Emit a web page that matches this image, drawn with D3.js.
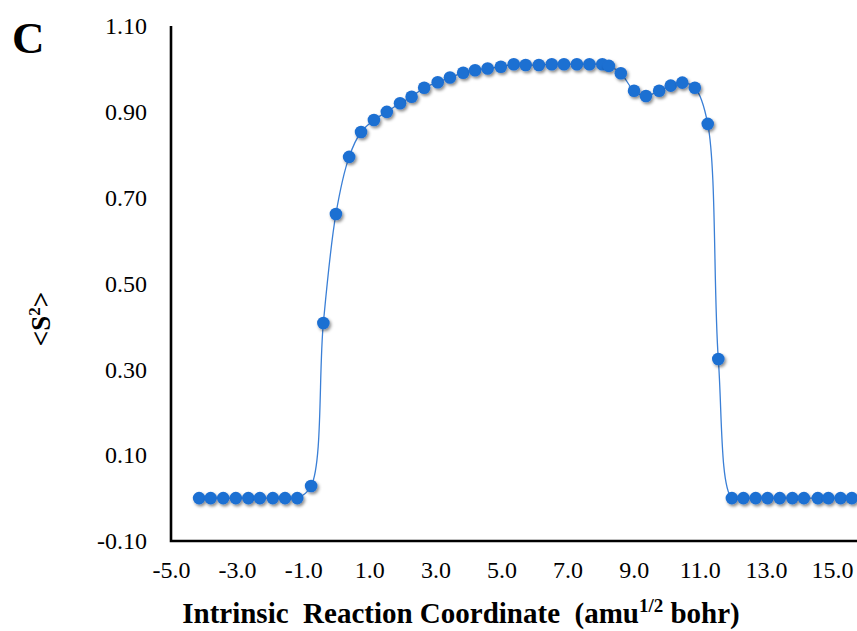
<!DOCTYPE html>
<html>
<head>
<meta charset="utf-8">
<script src="https://cdn.jsdelivr.net/npm/d3@7"></script>
<style>
    body { margin: 0; background: #fff; }
    svg { display: block; }
    .tick text { font-family: "Liberation Serif", "Times New Roman", serif; font-size: 24px; fill: #000; }
</style>
</head>
<body>
<script>
//S2 along the IRC, panel C

(function(){

//data
var ircValues = [-4.15, -3.80, -3.42, -3.04, -2.66, -2.31, -1.92, -1.55, -1.18,
    -0.76, -0.39, -0.01, 0.39, 0.75, 1.14, 1.53, 1.93, 2.28, 2.66, 3.07, 3.44, 3.84,
    4.20, 4.58, 4.98, 5.37, 5.73, 6.13, 6.52, 6.89, 7.28, 7.66, 8.05, 8.25, 8.61,
    9.01, 9.37, 9.77, 10.12, 10.47, 10.85, 11.24, 11.56,
    11.97, 12.32, 12.69, 13.05, 13.42, 13.80, 14.15, 14.57, 14.89, 15.26, 15.60];
var s2Values = [0, 0, 0, 0, 0, 0, 0, 0, 0,
    0.028, 0.408, 0.662, 0.795, 0.853, 0.881, 0.900, 0.920, 0.935, 0.956, 0.969, 0.980, 0.991,
    0.997, 1.001, 1.005, 1.011, 1.009, 1.009, 1.011, 1.011, 1.011, 1.011, 1.011, 1.007, 0.990,
    0.949, 0.937, 0.949, 0.961, 0.968, 0.956, 0.872, 0.324,
    0, 0, 0, 0, 0, 0, 0, 0, 0, 0, 0];
var xTicks = [-5, -3, -1, 1, 3, 5, 7, 9, 11, 13, 15];
var yTicks = [-0.10, 0.10, 0.30, 0.50, 0.70, 0.90, 1.10];

window.onload = setChart();

//plain hyphen for negatives, like the original
function fmt(spec){
    var f = d3.format(spec);
    return function(d){ return f(d).replace("\u2212", "-"); };
};

function setChart(){
    var width = 857,
        height = 631,
        left = 171,
        top = 26,
        bottom = 541;

    var svg = d3.select("body")
        .append("svg")
        .attr("width", width)
        .attr("height", height);

    //drop shadow for the markers, excel style
    var filter = svg.append("defs").append("filter")
        .attr("id", "shadow")
        .attr("x", "-50%").attr("y", "-50%")
        .attr("width", "200%").attr("height", "200%");
    filter.append("feDropShadow")
        .attr("dx", 1.5)
        .attr("dy", 2)
        .attr("stdDeviation", 1.5)
        .attr("flood-color", "#000")
        .attr("flood-opacity", 0.45);

    //axis runs past the right edge like the cropped original
    var xScale = d3.scaleLinear()
        .domain([-5, 17])
        .range([left, left + 22 * 33.05]);

    var yScale = d3.scaleLinear()
        .domain([-0.10, 1.10])
        .range([bottom, top]);

    var points = ircValues.map(function(d, i){
        return {x: d, y: s2Values[i]};
    });

    //axes, no tick marks
    var xAxis = svg.append("g")
        .attr("transform", "translate(0," + bottom + ")")
        .call(d3.axisBottom(xScale)
            .tickValues(xTicks)
            .tickSize(0)
            .tickPadding(20)
            .tickFormat(fmt(".1f")));

    var yAxis = svg.append("g")
        .attr("transform", "translate(" + left + ",0)")
        .call(d3.axisLeft(yScale)
            .tickValues(yTicks)
            .tickSize(0)
            .tickPadding(24)
            .tickFormat(fmt(".2f")));

    xAxis.select(".domain").remove();
    yAxis.select(".domain").remove();

    //axis lines drawn as one path so the corner is square
    svg.append("path")
        .attr("d", "M" + left + "," + top + "V" + bottom + "H" + width)
        .attr("fill", "none")
        .attr("stroke", "#000")
        .attr("stroke-width", 2.6);

    //smoothed line
    var line = d3.line()
        .x(function(d){ return xScale(d.x); })
        .y(function(d){ return yScale(d.y); })
        .curve(d3.curveCatmullRom.alpha(0.5));

    svg.append("path")
        .datum(points)
        .attr("d", line)
        .attr("fill", "none")
        .attr("stroke", "#3a7fd6")
        .attr("stroke-width", 1.3);

    svg.selectAll(".dot")
        .data(points)
        .enter()
        .append("circle")
        .attr("class", "dot")
        .attr("cx", function(d){ return xScale(d.x); })
        .attr("cy", function(d){ return yScale(d.y); })
        .attr("r", 6.3)
        .attr("fill", "#1f6fd2")
        .attr("filter", "url(#shadow)");

    //panel letter
    svg.append("text")
        .attr("x", 12)
        .attr("y", 53)
        .style("font-family", "Liberation Serif, serif")
        .style("font-weight", "bold")
        .style("font-size", "45px")
        .text("C");

    //y title
    var yTitle = svg.append("text")
        .attr("transform", "translate(50,319) rotate(-90)")
        .attr("text-anchor", "middle")
        .style("font-family", "Liberation Serif, serif")
        .style("font-weight", "bold")
        .style("font-size", "27px");
    yTitle.append("tspan").text("<S");
    yTitle.append("tspan").attr("dy", -10).style("font-size", "17px").text("2");
    yTitle.append("tspan").attr("dy", 10).text(">");

    //x title
    var xTitle = svg.append("text")
        .attr("x", 461)
        .attr("y", 623)
        .attr("text-anchor", "middle")
        .style("font-family", "Liberation Serif, serif")
        .style("font-weight", "bold")
        .style("font-size", "29px")
        .attr("xml:space", "preserve");
    xTitle.append("tspan").text("Intrinsic  Reaction Coordinate  (amu");
    xTitle.append("tspan").attr("dy", -11).style("font-size", "19px").text("1/2");
    xTitle.append("tspan").attr("dy", 11).text(" bohr)");
};

})();
</script>
</body>
</html>
